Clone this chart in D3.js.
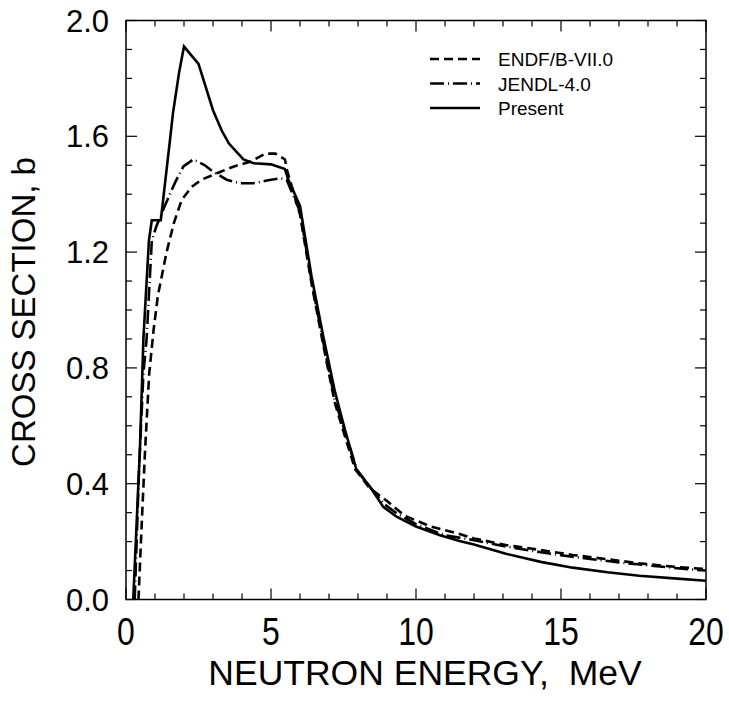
<!DOCTYPE html>
<html>
<head>
<meta charset="utf-8">
<script src="https://cdn.jsdelivr.net/npm/d3@7"></script>
<style>
  body { margin: 0; background: #fff; }
  text { font-family: "Liberation Sans", Arial, sans-serif; fill: #000; }
</style>
</head>
<body>
<svg id="chart" width="729" height="706"></svg>
<script>
// ENDF/B-VII.0 (dashed)
const endfE = [0.43, 0.55, 0.66, 0.8, 0.95, 1.1, 1.4, 1.65, 1.92, 2.26, 2.6, 3.2, 3.7, 4.3, 4.8, 5.15, 5.48, 5.56, 6.0, 6.4, 6.8, 7.2, 7.5, 7.9, 8.4, 9.0, 9.6, 10.5, 11.4, 12.0, 13.1, 14.3, 15.4, 16.6, 17.7, 18.9, 20.0];
const endfS = [0.0, 0.28, 0.52, 0.78, 0.93, 1.05, 1.2, 1.3, 1.38, 1.425, 1.45, 1.475, 1.495, 1.513, 1.54, 1.54, 1.52, 1.48, 1.33, 1.09, 0.88, 0.68, 0.58, 0.45, 0.385, 0.34, 0.29, 0.252, 0.229, 0.211, 0.188, 0.171, 0.154, 0.139, 0.125, 0.113, 0.105];

// JENDL-4.0 (dash-dot)
const jendlE = [0.3, 0.45, 0.6, 0.71, 0.89, 1.05, 1.34, 1.69, 1.98, 2.32, 2.72, 3.0, 3.47, 3.93, 4.39, 4.85, 5.31, 5.54, 6.0, 6.4, 6.8, 7.2, 7.55, 7.95, 8.4, 8.9, 9.3, 10.0, 11.0, 12.0, 13.0, 14.0, 15.0, 16.0, 17.0, 18.0, 19.0, 20.0];
const jendlS = [0.0, 0.45, 0.78, 0.9, 1.24, 1.29, 1.36, 1.44, 1.496, 1.52, 1.5, 1.478, 1.45, 1.438, 1.438, 1.447, 1.455, 1.45, 1.34, 1.1, 0.89, 0.69, 0.58, 0.45, 0.39, 0.33, 0.3, 0.26, 0.222, 0.205, 0.185, 0.168, 0.153, 0.14, 0.128, 0.118, 0.108, 0.1];

// Present (solid)
const presE = [0.25, 0.48, 0.6, 0.79, 0.89, 1.2, 1.52, 1.62, 1.83, 2.0, 2.5, 3.0, 3.3, 3.55, 4.05, 4.4, 5.0, 5.48, 5.6, 6.0, 6.4, 6.8, 7.2, 7.55, 7.95, 8.41, 8.87, 9.33, 10.0, 10.83, 11.5, 12.0, 13.1, 14.3, 15.4, 16.6, 17.7, 18.9, 20.0];
const presS = [0.0, 0.52, 0.9, 1.24, 1.31, 1.31, 1.59, 1.68, 1.82, 1.91, 1.85, 1.69, 1.62, 1.575, 1.52, 1.507, 1.503, 1.487, 1.45, 1.36, 1.115, 0.91, 0.72, 0.586, 0.447, 0.39, 0.32, 0.286, 0.252, 0.222, 0.202, 0.19, 0.158, 0.13, 0.11, 0.094, 0.082, 0.073, 0.065];

const xTickLabels = ['0', '5', '10', '15', '20'];
const yTickLabels = ['0.0', '0.4', '0.8', '1.2', '1.6', '2.0'];

const seriesNames = ['ENDF/B-VII.0', 'JENDL-4.0', 'Present'];
const dashes = ['9,5', '14,4,1,4', null];

const svg = d3.select('#chart');
const pLeft = 126, pRight = 706, pTop = 20.5, pBottom = 599.5;

const x = d3.scaleLinear().domain([0, 20]).range([pLeft, pRight]);
const y = d3.scaleLinear().domain([0, 2]).range([pBottom, pTop]);

// frame
svg.append('rect')
  .attr('x', pLeft).attr('y', pTop)
  .attr('width', pRight - pLeft).attr('height', pBottom - pTop)
  .attr('fill', 'none').attr('stroke', '#000').attr('stroke-width', 1.5);

// ticks pointing inward on all four sides
const xt = d3.range(0, 21, 1);
const yt = d3.range(0, 21, 1).map(d => d / 10);
const tickG = svg.append('g').attr('stroke', '#000').attr('stroke-width', 1.2);
xt.forEach(v => {
  const len = v % 5 === 0 ? 11 : 6;
  tickG.append('line').attr('x1', x(v)).attr('x2', x(v)).attr('y1', pBottom).attr('y2', pBottom - len);
  tickG.append('line').attr('x1', x(v)).attr('x2', x(v)).attr('y1', pTop).attr('y2', pTop + len);
});
yt.forEach((v, i) => {
  const len = i % 4 === 0 ? 11 : 6;
  tickG.append('line').attr('y1', y(v)).attr('y2', y(v)).attr('x1', pLeft).attr('x2', pLeft + len);
  tickG.append('line').attr('y1', y(v)).attr('y2', y(v)).attr('x1', pRight).attr('x2', pRight - len);
});

// tick labels (x ones are drawn a little taller, like the narrow font of the original)
svg.selectAll('.xl').data(xTickLabels).enter().append('text')
  .attr('transform', d => `translate(${x(+d)},645) scale(1,1.2)`)
  .attr('text-anchor', 'middle').attr('font-size', 32)
  .text(d => d);
svg.selectAll('.yl').data(yTickLabels).enter().append('text')
  .attr('x', 109).attr('y', d => y(+d) + 11)
  .attr('text-anchor', 'end').attr('font-size', 31)
  .text(d => d);

// axis titles
svg.append('text')
  .attr('x', 425).attr('y', 685)
  .attr('text-anchor', 'middle').attr('font-size', 35.5)
  .style('white-space', 'pre')
  .text('NEUTRON ENERGY,  MeV');
svg.append('text')
  .attr('transform', 'translate(35,312) rotate(-90)')
  .attr('text-anchor', 'middle').attr('font-size', 33)
  .text('CROSS SECTION, b');

// curves
const line = d3.line().x(d => x(d[0])).y(d => y(d[1]));
const series = [
  d3.zip(endfE, endfS),
  d3.zip(jendlE, jendlS),
  d3.zip(presE, presS)
];
const plot = svg.append('g');
series.forEach((s, i) => {
  plot.append('path')
    .datum(s)
    .attr('d', line)
    .attr('fill', 'none')
    .attr('stroke', '#000')
    .attr('stroke-width', 2.6)
    .attr('stroke-dasharray', dashes[i]);
});

// legend
const legend = svg.append('g');
seriesNames.forEach((name, i) => {
  const ly = 59 + i * 24.5;
  legend.append('line')
    .attr('x1', 430).attr('x2', 480).attr('y1', ly).attr('y2', ly)
    .attr('stroke', '#000').attr('stroke-width', 2.6)
    .attr('stroke-dasharray', dashes[i]);
  legend.append('text')
    .attr('x', 498).attr('y', ly + 7)
    .attr('font-size', 19)
    .text(name);
});
</script>
</body>
</html>
